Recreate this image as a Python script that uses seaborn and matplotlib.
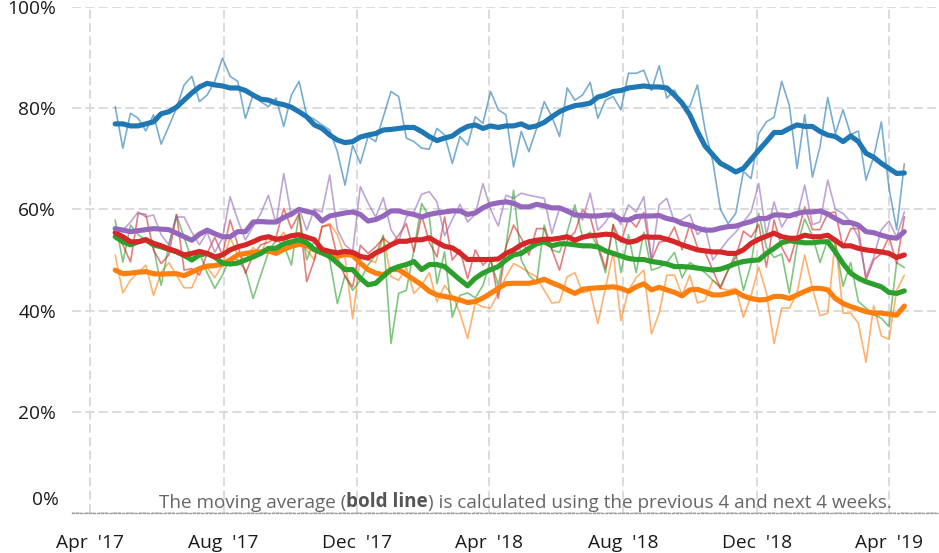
import numpy as np
import pandas as pd
import matplotlib
matplotlib.use("Agg")
import matplotlib.pyplot as plt
import matplotlib.dates as mdates
import matplotlib.transforms as mtransforms
import seaborn as sns

# ---------------- data (weekly, percent) ----------------
start_date = "2017-04-24"
n_weeks = 104

series_names = ["blue", "orange", "green", "red", "purple"]
series_colors = ["#1f77b4", "#ff7f0e", "#2ca02c", "#d62728", "#9467bd"]

blue_raw = [80.3, 72.1, 79.0, 78.0, 75.5, 78.7, 72.9, 76.4, 80.0, 84.6,
            86.3, 81.3, 82.6, 85.3, 89.9, 86.3, 85.3, 78.0, 82.6, 81.3,
            80.3, 82.0, 76.4, 82.6, 85.3, 78.6, 77.8, 76.7, 75.7, 71.4,
            64.8, 72.7, 69.1, 74.4, 73.4, 78.3, 83.3, 82.3, 74.1, 73.4,
            72.1, 71.9, 76.0, 74.7, 69.1, 74.4, 72.7, 78.3, 77.0, 83.3,
            79.7, 78.7, 68.4, 75.4, 71.4, 76.0, 81.3, 78.3, 74.4, 84.0,
            81.6, 82.6, 85.1, 78.0, 81.6, 82.3, 79.7, 86.9, 86.9, 87.5,
            83.5, 88.4, 82.0, 83.6, 80.3, 80.3, 84.6, 75.7, 69.5, 60.0,
            57.2, 59.2, 67.5, 66.1, 75.0, 77.3, 78.2, 85.3, 80.5, 68.1,
            78.7, 66.4, 72.4, 82.1, 75.0, 79.7, 74.8, 75.5, 65.8, 70.4,
            77.3, 64.2, 56.0, 69.0]
blue_avg = [76.9, 76.9, 76.5, 76.5, 76.9, 77.3, 78.9, 79.3, 80.2, 81.6,
            83.0, 84.2, 84.9, 84.6, 84.4, 84.0, 84.0, 83.5, 82.6, 81.8,
            81.6, 81.0, 80.7, 80.2, 79.3, 78.3, 76.7, 76.0, 74.7, 73.7,
            73.2, 73.4, 74.3, 74.7, 75.0, 75.7, 75.8, 76.0, 76.2, 76.2,
            75.4, 74.4, 73.6, 74.1, 74.5, 75.6, 76.4, 76.7, 76.0, 76.5,
            76.2, 76.5, 76.5, 76.9, 76.2, 76.5, 77.2, 78.3, 79.3, 80.0,
            80.5, 80.7, 81.0, 82.2, 82.6, 83.3, 83.5, 84.0, 84.2, 84.4,
            84.2, 84.2, 84.0, 82.6, 81.0, 78.7, 75.4, 72.5, 70.8, 69.1,
            68.3, 67.4, 68.1, 69.9, 71.7, 73.4, 75.2, 75.2, 76.0, 76.7,
            76.4, 76.4, 75.4, 74.7, 74.4, 73.4, 74.5, 73.4, 71.1, 70.3,
            69.1, 68.1, 67.1, 67.2]

orange_raw = [51.0, 43.5, 46.0, 47.5, 49.0, 43.0, 47.5, 49.5, 47.0, 44.5,
              44.5, 48.0, 48.5, 46.5, 49.0, 54.5, 51.0, 50.0, 52.5, 51.0,
              55.0, 53.5, 55.5, 52.5, 54.0, 52.0, 50.0, 56.6, 57.2, 55.0,
              50.5, 38.4, 50.5, 50.0, 49.5, 54.6, 46.7, 46.0, 48.5, 43.4,
              45.0, 47.5, 41.7, 45.0, 43.0, 39.5, 34.5, 41.5, 40.7, 40.5,
              43.5, 46.7, 49.3, 48.5, 47.5, 46.7, 44.0, 41.5, 41.7, 46.7,
              47.5, 43.5, 44.0, 37.4, 44.5, 51.5, 38.0, 44.0, 46.5, 48.0,
              35.4, 39.5, 47.0, 47.0, 43.0, 47.0, 41.5, 42.0, 46.0, 44.4,
              44.0, 44.4, 38.7, 43.0, 48.6, 43.5, 33.5, 40.5, 40.5, 43.5,
              51.0, 44.5, 39.0, 39.5, 54.0, 39.5, 39.5, 37.5, 29.8, 41.0,
              35.0, 34.3, 44.0, 47.0]
orange_avg = [48.0, 47.3, 47.4, 47.6, 47.7, 47.3, 47.2, 47.3, 47.3, 46.9,
              47.6, 48.3, 48.8, 48.9, 49.2, 50.0, 51.0, 51.3, 51.5, 51.6,
              51.8, 51.3, 52.1, 52.7, 53.1, 52.9, 52.0, 51.4, 50.9, 50.7,
              51.1, 50.9, 49.4, 48.1, 47.4, 47.1, 48.1, 48.1, 47.1, 46.1,
              45.1, 43.8, 43.1, 42.8, 42.5, 42.1, 41.6, 41.8, 42.5, 43.4,
              44.4, 45.3, 45.4, 45.4, 45.4, 45.7, 46.2, 45.5, 44.9, 44.1,
              43.4, 44.2, 44.4, 44.5, 44.6, 44.7, 44.4, 43.8, 44.7, 45.3,
              44.1, 44.6, 44.1, 43.6, 42.9, 44.1, 44.2, 43.7, 43.1, 43.1,
              43.4, 43.8, 42.9, 42.4, 42.1, 42.2, 42.8, 42.8, 42.4, 43.1,
              43.8, 44.4, 44.4, 44.1, 42.4, 41.4, 40.8, 40.3, 39.8, 39.5,
              39.5, 39.3, 39.1, 40.9]

green_raw = [57.9, 49.6, 56.9, 55.0, 54.0, 52.5, 45.0, 53.0, 58.9, 54.5,
             50.0, 51.5, 47.5, 44.4, 47.0, 50.5, 50.0, 48.0, 42.4, 47.0,
             51.5, 54.0, 53.0, 49.0, 59.2, 50.0, 54.0, 52.0, 50.0, 41.4,
             47.0, 44.0, 46.0, 49.0, 51.0, 54.9, 33.5, 43.4, 44.0, 52.0,
             61.2, 58.5, 45.3, 51.6, 38.7, 43.0, 43.5, 42.5, 45.0, 50.0,
             45.0, 52.6, 63.8, 50.0, 47.0, 45.5, 56.9, 52.0, 51.5, 55.5,
             60.9, 54.5, 55.5, 52.5, 47.5, 57.0, 47.5, 55.0, 47.5, 55.5,
             48.0, 48.5, 49.5, 51.5, 46.5, 49.5, 48.5, 47.5, 46.0, 44.8,
             48.0, 51.4, 44.0, 49.2, 59.2, 52.5, 50.5, 51.2, 43.4, 52.8,
             58.1, 54.8, 49.5, 54.0, 53.4, 44.8, 49.5, 41.8, 40.5, 39.2,
             38.5, 36.8, 49.5, 48.5]
green_avg = [54.6, 53.6, 53.0, 53.6, 54.0, 53.0, 52.6, 52.1, 51.6, 50.9,
             50.0, 51.0, 51.3, 50.6, 49.4, 49.2, 49.4, 50.0, 50.6, 51.3,
             52.3, 52.3, 53.2, 53.6, 54.0, 53.4, 52.1, 51.4, 50.7, 49.4,
             48.1, 48.1, 46.4, 45.1, 45.4, 46.8, 48.1, 48.7, 49.1, 49.7,
             48.1, 49.1, 49.1, 48.7, 47.4, 46.1, 44.9, 46.4, 47.4, 48.1,
             48.7, 50.0, 51.0, 51.3, 52.3, 53.2, 53.6, 52.8, 53.2, 53.2,
             53.0, 52.8, 52.8, 52.6, 51.8, 51.3, 50.8, 50.3, 50.1, 50.1,
             49.7, 49.5, 49.2, 48.7, 48.7, 48.6, 48.4, 48.2, 48.0, 48.2,
             48.7, 49.3, 49.7, 49.9, 50.0, 51.3, 52.3, 53.4, 53.8, 53.6,
             53.4, 53.4, 53.6, 53.6, 51.6, 49.3, 47.4, 46.4, 45.7, 45.2,
             44.7, 43.6, 43.4, 43.9]

red_raw = [55.5, 53.0, 49.6, 59.2, 59.0, 52.0, 49.3, 51.0, 59.0, 48.0,
           48.3, 47.0, 51.3, 54.5, 51.0, 57.9, 53.0, 47.3, 51.0, 53.0,
           53.5, 54.5, 60.2, 56.2, 59.2, 45.7, 50.0, 56.6, 56.9, 50.6,
           46.7, 44.7, 52.9, 51.3, 52.6, 54.3, 53.0, 54.9, 57.2, 51.6,
           58.9, 53.5, 50.6, 58.5, 50.0, 52.0, 46.3, 52.0, 49.0, 50.5,
           42.4, 52.6, 56.9, 54.3, 51.0, 56.2, 56.2, 52.0, 48.0, 54.0,
           55.5, 59.9, 58.5, 53.0, 48.3, 57.0, 53.5, 58.2, 56.5, 59.4,
           50.0, 53.5, 53.8, 56.5, 52.0, 57.0, 52.5, 51.5, 48.0, 44.4,
           48.0, 50.5, 55.7, 54.5, 57.0, 48.6, 57.9, 52.5, 49.6, 54.8,
           60.5, 56.0, 56.0, 59.2, 59.5, 52.5, 56.2, 56.2, 46.0, 50.0,
           51.3, 54.6, 49.3, 58.5]
red_avg = [55.4, 54.6, 53.6, 53.6, 54.0, 53.3, 52.8, 52.2, 51.7, 51.0,
           51.3, 51.7, 51.3, 50.6, 51.0, 52.0, 52.6, 53.0, 53.6, 54.3,
           54.6, 54.1, 54.3, 54.8, 55.0, 54.5, 54.0, 52.1, 51.7, 51.4,
           51.7, 51.5, 50.7, 50.4, 51.4, 52.1, 53.0, 53.7, 53.7, 54.0,
           54.0, 54.4, 53.5, 52.7, 52.4, 51.4, 50.1, 50.1, 50.1, 50.1,
           50.2, 51.3, 52.0, 53.0, 53.6, 53.9, 54.1, 54.1, 54.3, 54.6,
           53.9, 54.5, 54.8, 54.9, 55.1, 55.0, 54.1, 53.5, 53.8, 54.6,
           54.5, 54.5, 54.1, 53.6, 53.0, 52.5, 52.0, 51.8, 51.6, 51.6,
           51.3, 51.3, 52.0, 53.3, 54.1, 54.7, 55.3, 54.6, 54.3, 54.3,
           54.9, 54.6, 54.6, 54.9, 53.9, 52.8, 52.8, 52.3, 52.0, 51.8,
           51.6, 51.3, 50.5, 51.0]

purple_raw = [56.0, 55.9, 57.5, 59.5, 58.5, 58.9, 55.0, 53.0, 58.5, 58.5,
              55.5, 53.0, 55.5, 51.5, 54.3, 62.5, 57.9, 54.0, 56.6, 59.2,
              62.8, 57.2, 67.1, 58.6, 60.2, 55.9, 60.0, 59.5, 66.8, 56.0,
              53.0, 51.7, 64.5, 61.3, 58.5, 62.3, 56.0, 53.6, 58.5, 59.5,
              63.0, 63.5, 61.5, 54.8, 58.0, 61.0, 57.5, 59.0, 65.1, 60.0,
              56.7, 62.8, 62.2, 63.2, 62.8, 62.5, 62.2, 55.2, 60.2, 59.2,
              59.8, 57.9, 63.2, 55.9, 57.5, 60.0, 57.0, 60.9, 59.5, 62.5,
              50.0, 60.9, 62.2, 57.5, 58.0, 59.0, 55.0, 56.5, 50.0, 52.0,
              54.0, 55.5, 57.5, 59.5, 65.1, 55.0, 61.5, 56.5, 59.0, 58.5,
              64.8, 57.0, 57.5, 65.8, 60.0, 59.2, 57.5, 54.5, 46.7, 50.5,
              56.0, 57.7, 54.5, 59.5]
purple_avg = [56.2, 55.9, 55.6, 55.8, 56.0, 56.2, 56.1, 56.0, 55.3, 54.6,
              53.9, 55.1, 55.9, 55.2, 54.6, 54.6, 55.6, 55.6, 57.5, 57.6,
              57.5, 57.5, 58.4, 59.1, 60.0, 59.6, 59.3, 57.7, 58.7, 59.0,
              59.3, 59.5, 59.0, 57.7, 58.0, 58.7, 59.7, 59.7, 59.3, 59.0,
              58.5, 59.0, 59.3, 59.5, 59.7, 59.7, 59.0, 59.3, 60.3, 61.0,
              61.3, 61.5, 61.2, 60.5, 60.5, 61.0, 60.7, 60.3, 60.3, 59.7,
              58.9, 58.8, 58.7, 58.7, 58.9, 58.9, 58.0, 57.9, 58.6, 58.7,
              58.7, 58.8, 58.2, 57.9, 57.2, 56.9, 56.3, 55.9, 55.9, 56.3,
              56.6, 56.7, 57.2, 57.6, 58.2, 58.2, 58.9, 58.9, 58.7, 59.2,
              59.5, 59.5, 59.7, 59.1, 58.2, 57.4, 57.4, 56.9, 55.6, 55.4,
              54.9, 54.5, 54.3, 55.6]

raw_values = [blue_raw, orange_raw, green_raw, red_raw, purple_raw]
avg_values = [blue_avg, orange_avg, green_avg, red_avg, purple_avg]

y_ticks = [0.0, 0.2, 0.4, 0.6, 0.8, 1.0]
y_tick_labels = ["0%", "20%", "40%", "60%", "80%", "100%"]
note_parts = ["The moving average (", "bold line", ") is calculated using the previous 4 and next 4 weeks."]

# ---------------- figure ----------------
sns.set_style("white")
plt.rcParams["font.family"] = ["Open Sans", "DejaVu Sans"]

W, H = 939, 553
fig = plt.figure(figsize=(W / 100, H / 100), dpi=100)
ax = fig.add_axes([72 / W, 40 / H, 1 - 72 / W, 506 / H])

dates = pd.date_range(start_date, periods=n_weeks, freq="7D")

for name, col, raw in zip(series_names, series_colors, raw_values):
    sns.lineplot(x=dates, y=np.array(raw) / 100, color=col, lw=1.2, alpha=0.6, ax=ax, zorder=3)
for name, col, avg in zip(series_names, series_colors, avg_values):
    sns.lineplot(x=dates, y=np.array(avg) / 100, color=col, lw=3.7, ax=ax, zorder=4,
                 solid_capstyle="round")

# axes limits
ref = pd.Timestamp("2017-04-01")
px_per_day = 799 / 730.0
x_left = ref + pd.Timedelta(days=(72 - 90) / px_per_day)
x_right = ref + pd.Timedelta(days=(939 - 90) / px_per_day)
ax.set_xlim(x_left, x_right)
ax.set_ylim(0, 1)

# x ticks
ax.xaxis.set_major_locator(mdates.MonthLocator(bymonth=[4, 8, 12]))
ax.xaxis.set_major_formatter(mdates.DateFormatter("%b  '%y"))
ax.xaxis.set_minor_locator(mdates.MonthLocator())
ax.tick_params(axis="x", which="major", length=8, width=1.4, color="#d6d6d6",
               pad=7, labelsize=13.8, labelcolor="#1a1a1a")
ax.tick_params(axis="x", which="minor", length=3, width=1, color="#b5b5b5")

# y ticks
ax.set_yticks(y_ticks)
ax.set_yticklabels([""] + y_tick_labels[1:])
ax.tick_params(axis="y", which="major", length=9, width=1.8, color="#b0b0b0",
               pad=2.5, labelsize=13.8, labelcolor="#1a1a1a")
zero_tr = mtransforms.offset_copy(ax.get_yaxis_transform(), fig=fig, x=-13, y=13, units="dots")
ax.text(0, 0, y_tick_labels[0], transform=zero_tr, ha="right", va="center",
        fontsize=13.8, color="#1a1a1a")

# grid
ax.grid(True, which="major", color="#d9d9d9", linestyle=(0, (5, 2.4)), lw=1.3)
ax.set_axisbelow(True)

for s in ["top", "right", "left"]:
    ax.spines[s].set_visible(False)
ax.spines["bottom"].set_linestyle((0, (1.5, 1.5)))
ax.spines["bottom"].set_color("#9a9a9a")
ax.spines["bottom"].set_linewidth(1.0)
ax.spines["bottom"].set_zorder(5)

ax.set_xlabel("")
ax.set_ylabel("")

# footnote
t3 = fig.text(892 / W, (H - 508) / H, note_parts[2], ha="right", va="baseline",
              fontsize=13.55, color="#666666")
t2 = ax.annotate(note_parts[1], xy=(0, 0), xycoords=t3, ha="right", va="bottom",
                 fontsize=13.55, color="#555555", fontweight="bold", annotation_clip=False)
t1 = ax.annotate(note_parts[0], xy=(0, 0), xycoords=t2, ha="right", va="bottom",
                 fontsize=13.55, color="#666666", annotation_clip=False)

fig.savefig("out.png", dpi=100)
